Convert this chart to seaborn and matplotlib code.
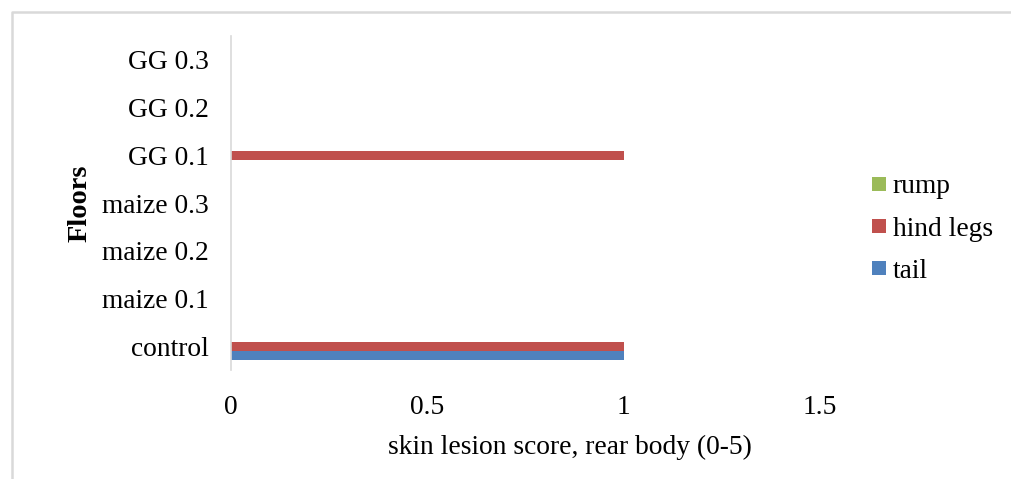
import matplotlib
matplotlib.use("Agg")
import matplotlib.pyplot as plt
from matplotlib.lines import Line2D
import seaborn as sns
import pandas as pd

categories = ["GG 0.3", "GG 0.2", "GG 0.1", "maize 0.3", "maize 0.2", "maize 0.1", "control"]
series = ["rump", "hind legs", "tail"]
rump = [0, 0, 0, 0, 0, 0, 0]
hind_legs = [0, 0, 1, 0, 0, 0, 1]
tail = [0, 0, 0, 0, 0, 0, 1]
colors = ["#9BBB59", "#C0504D", "#4F81BD"]
x_ticks = [0, 0.5, 1, 1.5]
x_tick_labels = ["0", "0.5", "1", "1.5"]

rows = []
for name, vals in zip(series, [rump, hind_legs, tail]):
    for c, v in zip(categories, vals):
        rows.append({"Floors": c, "part": name, "score": v})
df = pd.DataFrame(rows)

sns.set_style("white")
plt.rcParams["font.family"] = ["Liberation Serif", "DejaVu Serif"]
plt.rcParams["text.color"] = "black"
plt.rcParams["axes.labelcolor"] = "black"

FS = 19.8
W, H = 1011, 479
fig = plt.figure(figsize=(W / 100, H / 100), dpi=100)
ax = fig.add_axes([231 / W, 1 - 370 / H, (820 - 231) / W, (370 - 36) / H])

sns.barplot(data=df, x="score", y="Floors", hue="part", order=categories,
            hue_order=series, palette=colors, orient="h", width=0.57,
            linewidth=0, saturation=1, ax=ax, legend=False)

ax.set_xlim(0, 1.5)
ax.set_xticks(x_ticks)
ax.set_xticklabels(x_tick_labels)
ax.tick_params(axis="both", length=0, labelsize=FS, colors="black")
ax.tick_params(axis="y", pad=16)
ax.tick_params(axis="x", pad=18)
for s in ["top", "right", "bottom"]:
    ax.spines[s].set_visible(False)
ax.spines["left"].set_color("#D9D9D9")
ax.spines["left"].set_linewidth(1.2)
ax.set_xlabel("skin lesion score, rear body (0-5)", fontsize=FS, color="black")
ax.set_ylabel("Floors", fontsize=20.5, fontweight="bold", color="black")
ax.xaxis.set_label_coords((570 - 231) / (820 - 231), -(447 - 370) / (370 - 36))
ax.xaxis.label.set_verticalalignment("center")
ax.yaxis.set_label_coords(-(231 - 80) / (820 - 231), 0.5)
ax.yaxis.label.set_verticalalignment("center")
ax.grid(False)

handles = [Line2D([0], [0], marker="s", linestyle="none", markersize=9.5,
                  markerfacecolor=c, markeredgewidth=0) for c in colors]
leg = fig.legend(handles, series, loc="center left",
                 bbox_to_anchor=(872 / W, 1 - 229 / H), frameon=False, fontsize=FS,
                 handlelength=0.5, handletextpad=0.25, labelspacing=0.62,
                 borderpad=0, borderaxespad=0)
for t in leg.get_texts():
    t.set_color("black")

# outer chart frame (top and left visible)
fig.add_artist(Line2D([12 / W, 12 / W, 1.0], [0.0, 1 - 12 / H, 1 - 12 / H],
                      transform=fig.transFigure, color="#D9D9D9", linewidth=1.8))

fig.savefig("out.png", dpi=100)
